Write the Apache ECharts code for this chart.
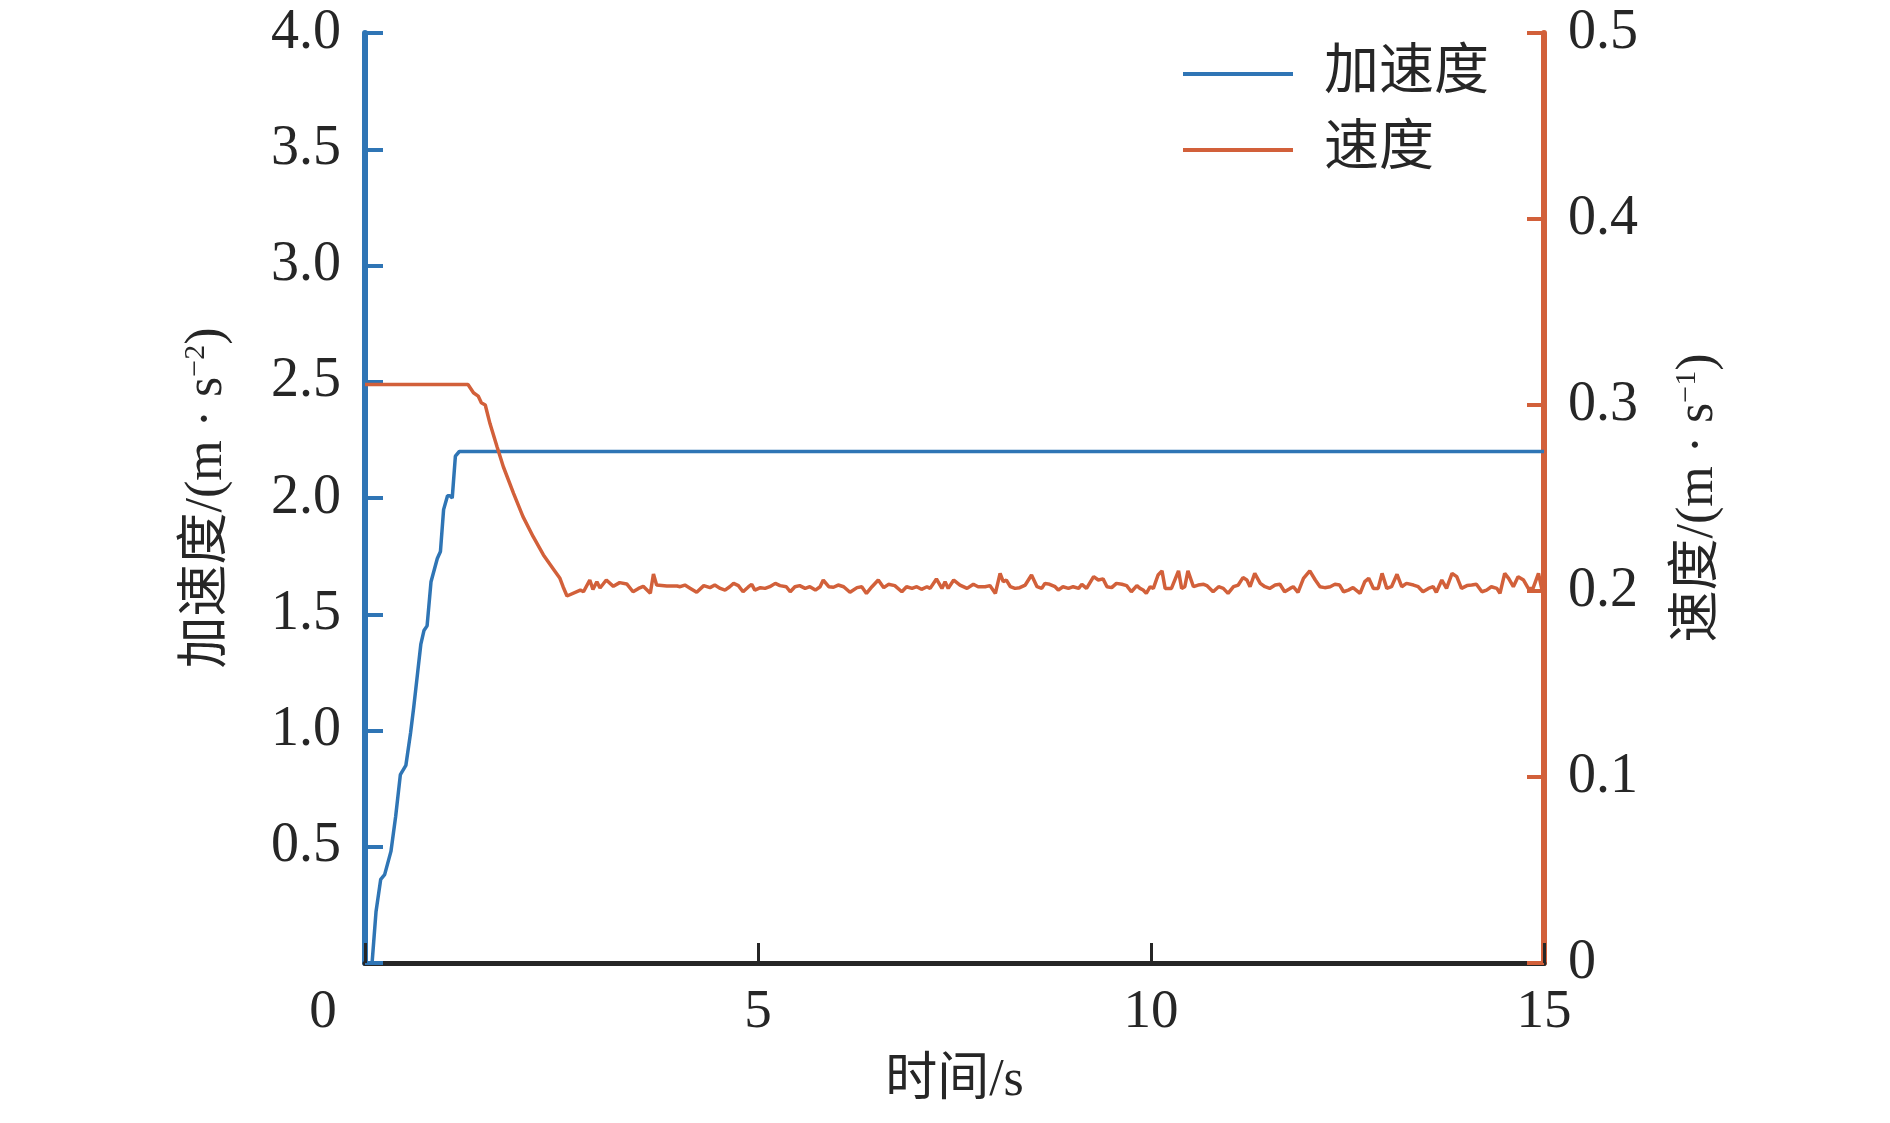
<!DOCTYPE html>
<html>
<head>
<meta charset="utf-8">
<title>加速度 / 速度</title>
<script src="https://cdn.jsdelivr.net/npm/echarts@6/dist/echarts.min.js"></script>
<style>
  html, body { margin: 0; padding: 0; background: #fff; }
  #chart { width: 1890px; height: 1123px; }
</style>
</head>
<body>
<div id="chart"></div>
<script>
// 时间/s 与 加速度 (m·s^-2)
var accelData = [
  [0.09, 0], [0.14, 0.22], [0.20, 0.36], [0.25, 0.38], [0.33, 0.48], [0.39, 0.63],
  [0.45, 0.81], [0.52, 0.85], [0.58, 0.99], [0.62, 1.10], [0.67, 1.25], [0.71, 1.37],
  [0.75, 1.43], [0.79, 1.45], [0.84, 1.64], [0.92, 1.74], [0.96, 1.77], [1.00, 1.95],
  [1.05, 2.01], [1.08, 2.01], [1.11, 2.00], [1.15, 2.18], [1.20, 2.2], [15, 2.2]
]

// 时间/s 与 速度 (m·s^-1)
var speedData = [
  [0, 0.311], [1.31, 0.311], [1.38, 0.3066], [1.44, 0.3048], [1.48, 0.3012], [1.53, 0.300],
  [1.59, 0.290], [1.68, 0.2776], [1.76, 0.2668], [1.89, 0.2525], [2.01, 0.240], [2.14, 0.2292],
  [2.27, 0.2194], [2.40, 0.2116], [2.48, 0.2068], [2.52, 0.2023], [2.57, 0.1973],
  [2.74, 0.2005], [2.78, 0.1996], [2.86, 0.2059], [2.90, 0.2009], [2.95, 0.2050], [2.99, 0.2016],
  [3.07, 0.2059], [3.16, 0.2025], [3.24, 0.2045], [3.33, 0.2038], [3.41, 0.1996], [3.48, 0.2014],
  [3.54, 0.2025], [3.63, 0.1988], [3.67, 0.2091], [3.71, 0.2032], [3.84, 0.2027], [3.97, 0.2027],
  [4.01, 0.2023], [4.07, 0.2032], [4.14, 0.2014], [4.22, 0.1993], [4.31, 0.2029], [4.39, 0.2018],
  [4.45, 0.2032], [4.52, 0.2014], [4.58, 0.2005], [4.64, 0.2023], [4.69, 0.2041], [4.75, 0.2029],
  [4.81, 0.1996], [4.88, 0.2023], [4.92, 0.2036], [4.96, 0.2005], [5.03, 0.2018], [5.09, 0.2014],
  [5.15, 0.2023], [5.22, 0.2041], [5.28, 0.2029], [5.36, 0.2023], [5.41, 0.1996], [5.47, 0.2023],
  [5.53, 0.2029], [5.60, 0.2014], [5.66, 0.2023], [5.73, 0.2005], [5.79, 0.2023], [5.83, 0.2059],
  [5.90, 0.2023], [5.96, 0.2020], [6.02, 0.2032], [6.09, 0.2023], [6.17, 0.1993], [6.26, 0.2018],
  [6.32, 0.2023], [6.38, 0.1987], [6.45, 0.2023], [6.53, 0.2059], [6.60, 0.2018], [6.66, 0.2036],
  [6.74, 0.2029], [6.83, 0.1996], [6.89, 0.2023], [6.96, 0.2014], [7.02, 0.2023], [7.08, 0.2009],
  [7.15, 0.2023], [7.19, 0.2014], [7.27, 0.2065], [7.34, 0.2014], [7.38, 0.2050], [7.42, 0.2014],
  [7.49, 0.2059], [7.57, 0.2032], [7.66, 0.2014], [7.74, 0.2036], [7.80, 0.2023],
  [7.89, 0.2023], [7.95, 0.2029], [8.02, 0.1987], [8.08, 0.2095], [8.12, 0.2050], [8.16, 0.2059],
  [8.21, 0.2023], [8.27, 0.2014], [8.33, 0.2018], [8.40, 0.2032], [8.48, 0.2086], [8.55, 0.2023],
  [8.61, 0.2014], [8.65, 0.2041], [8.71, 0.2036], [8.78, 0.2023], [8.82, 0.2005], [8.88, 0.2023],
  [8.95, 0.2014], [9.01, 0.2023], [9.08, 0.2014], [9.12, 0.2036], [9.18, 0.2014], [9.27, 0.2077],
  [9.33, 0.2059], [9.39, 0.2065], [9.44, 0.2023], [9.50, 0.2018], [9.56, 0.2041], [9.63, 0.2036],
  [9.69, 0.2029], [9.75, 0.1996], [9.82, 0.2029], [9.86, 0.2014], [9.90, 0.2005], [9.94, 0.1987],
  [9.99, 0.2023], [10.03, 0.2014], [10.09, 0.2086], [10.14, 0.2108], [10.18, 0.2014], [10.26, 0.2014],
  [10.35, 0.2108], [10.39, 0.2014], [10.43, 0.2023], [10.47, 0.2108], [10.54, 0.2023], [10.60, 0.2032],
  [10.67, 0.2036], [10.71, 0.2029], [10.79, 0.1996], [10.86, 0.2023], [10.92, 0.2014], [10.98, 0.1987],
  [11.05, 0.2023], [11.11, 0.2032], [11.17, 0.2072], [11.22, 0.2059], [11.26, 0.2023], [11.32, 0.2095],
  [11.39, 0.2041], [11.45, 0.2023], [11.51, 0.2014], [11.58, 0.2032], [11.64, 0.2036], [11.70, 0.1996],
  [11.77, 0.2014], [11.81, 0.2023], [11.87, 0.1993], [11.94, 0.2068], [12.02, 0.2108], [12.09, 0.2059],
  [12.15, 0.2023], [12.21, 0.2018], [12.28, 0.2023], [12.34, 0.2036], [12.40, 0.2032], [12.45, 0.1996],
  [12.51, 0.2005], [12.57, 0.2018], [12.66, 0.1987], [12.72, 0.2050], [12.77, 0.2068], [12.83, 0.2014],
  [12.89, 0.2014], [12.94, 0.2095], [13.00, 0.2014], [13.06, 0.2023], [13.13, 0.2090], [13.19, 0.2023],
  [13.25, 0.2041], [13.34, 0.2032], [13.40, 0.2023], [13.46, 0.1996], [13.53, 0.2014], [13.59, 0.2023],
  [13.63, 0.1993], [13.70, 0.2059], [13.76, 0.2014], [13.83, 0.2095], [13.89, 0.2077], [13.95, 0.2014],
  [14.02, 0.2029], [14.08, 0.2032], [14.14, 0.2036], [14.21, 0.1996], [14.27, 0.2005], [14.33, 0.2023],
  [14.40, 0.2014], [14.44, 0.1987], [14.50, 0.2095], [14.55, 0.2068], [14.61, 0.2023], [14.67, 0.2077],
  [14.74, 0.2059], [14.80, 0.2014], [14.86, 0.2014], [14.93, 0.2095], [14.97, 0.2014], [15, 0.2014]
]

var seriesNames = ['加速度', '速度']
var xTicks = { min: 0, max: 15, interval: 5 }
var accelTicks = { min: 0, max: 4, interval: 0.5 }
var speedTicks = { min: 0, max: 0.5, interval: 0.1 }

var BLUE = '#2f75b5'
var ORANGE = '#d2603a'
var INK = '#262626'
var FONT = '"Liberation Serif", "Noto Sans CJK SC", serif'

var chart = echarts.init(document.getElementById('chart'))

chart.setOption({
  animation: false,
  backgroundColor: '#fff',
  grid: {
    left: 365,
    right: 346,
    top: 33,
    bottom: 160
  },
  legend: {
    data: seriesNames,
    orient: 'vertical',
    left: 1178,
    top: 39,
    icon: 'rect',
    itemWidth: 110,
    itemHeight: 4,
    itemGap: 16,
    textStyle: {
      fontFamily: FONT,
      fontSize: 55,
      lineHeight: 60,
      color: INK,
      padding: [0, 0, 0, 26]
    }
  },
  xAxis: {
    type: 'value',
    min: xTicks.min,
    max: xTicks.max,
    interval: xTicks.interval,
    name: '时间/s',
    nameLocation: 'middle',
    nameGap: 92,
    nameTextStyle: { fontFamily: FONT, fontSize: 52, color: INK },
    axisLine: { show: true, lineStyle: { color: INK, width: 5 } },
    axisTick: { show: true, inside: true, length: 20, lineStyle: { color: INK, width: 3 } },
    splitLine: { show: false },
    axisLabel: {
      fontFamily: FONT,
      fontSize: 55,
      color: INK,
      margin: 22,
      // 原点的 0 偏左放在角上
      formatter: function(v) {
        return v === 0 ? '{o|0}' : String(v)
      },
      rich: {
        o: { fontFamily: FONT, fontSize: 55, color: INK, padding: [0, 84, 0, 0] }
      }
    }
  },
  yAxis: [
    {
      type: 'value',
      position: 'left',
      min: accelTicks.min,
      max: accelTicks.max,
      interval: accelTicks.interval,
      name: '加速度/(m · s{sup|−2})',
      nameLocation: 'middle',
      nameRotate: 90,
      nameGap: 132,
      nameTextStyle: {
        fontFamily: FONT,
        fontSize: 52,
        color: INK,
        rich: { sup: { fontFamily: FONT, fontSize: 30, color: INK, verticalAlign: 'top' } }
      },
      axisLine: { show: true, onZero: false, lineStyle: { color: BLUE, width: 6 } },
      axisTick: { show: true, inside: true, length: 18, lineStyle: { color: BLUE, width: 4 } },
      splitLine: { show: false },
      axisLabel: {
        fontFamily: FONT,
        fontSize: 56,
        color: INK,
        margin: 24,
        formatter: function(v) {
          return v === 0 ? '' : v.toFixed(1)
        }
      }
    },
    {
      type: 'value',
      position: 'right',
      min: speedTicks.min,
      max: speedTicks.max,
      interval: speedTicks.interval,
      name: '速度/(m · s{sup|−1})',
      nameLocation: 'middle',
      nameRotate: 90,
      nameGap: 128,
      nameTextStyle: {
        fontFamily: FONT,
        fontSize: 52,
        color: INK,
        rich: { sup: { fontFamily: FONT, fontSize: 30, color: INK, verticalAlign: 'top' } }
      },
      axisLine: { show: true, onZero: false, lineStyle: { color: ORANGE, width: 6 } },
      axisTick: { show: true, inside: true, length: 17, lineStyle: { color: ORANGE, width: 4 } },
      splitLine: { show: false },
      axisLabel: {
        fontFamily: FONT,
        fontSize: 56,
        color: INK,
        margin: 24,
        formatter: function(v) {
          return v === 0 ? '0' : v.toFixed(1)
        }
      }
    }
  ],
  series: [
    {
      name: seriesNames[0],
      type: 'line',
      yAxisIndex: 0,
      data: accelData,
      symbol: 'none',
      lineStyle: { color: BLUE, width: 3.5 },
      itemStyle: { color: BLUE }
    },
    {
      name: seriesNames[1],
      type: 'line',
      yAxisIndex: 1,
      data: speedData,
      symbol: 'none',
      lineStyle: { color: ORANGE, width: 3.5 },
      itemStyle: { color: ORANGE }
    }
  ]
})
</script>
</body>
</html>
